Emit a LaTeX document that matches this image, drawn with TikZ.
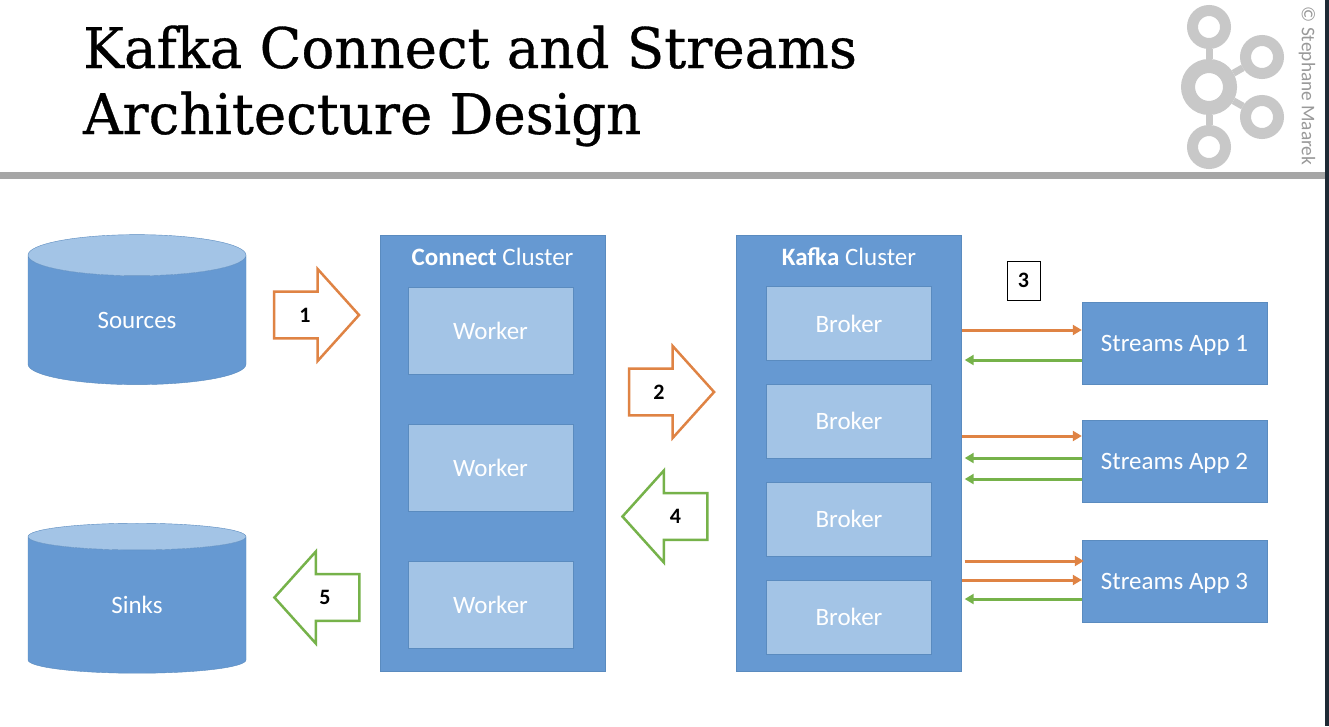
\documentclass[tikz,border=0pt]{standalone}
\usepackage{fontspec}
\setmainfont{Carlito}
\newfontfamily\titlefont[FakeStretch=0.975, FakeBold=0.6]{DejaVu Serif}
\usetikzlibrary{shapes.geometric}
\usetikzlibrary{shapes.arrows}
\usetikzlibrary{arrows.meta}
\definecolor{boxblue}{HTML}{6699D2}
\definecolor{edgeblue}{HTML}{5A8BBF}
\definecolor{paleblue}{HTML}{A3C4E6}
\definecolor{streamorange}{HTML}{DF8344}
\definecolor{streamgreen}{HTML}{76B24A}
\definecolor{logogray}{HTML}{C8C8C8}
\definecolor{sidestrip}{HTML}{1E2A35}
\tikzstyle{cluster}=[draw=edgeblue, fill=boxblue, minimum width=225, minimum height=436, inner sep=0]
\tikzstyle{member}=[draw=edgeblue, fill=paleblue, text=white, minimum width=165, font=\fontsize{25}{28}\selectfont, inner sep=0]
\tikzstyle{streamapp}=[draw=edgeblue, fill=boxblue, text=white, minimum width=185, minimum height=82, text height=22, text depth=6, font=\fontsize{25}{28}\selectfont, inner sep=0]
\tikzstyle{store}=[cylinder, shape border rotate=90, aspect=0.52, draw=edgeblue, cylinder uses custom fill, cylinder body fill=boxblue, cylinder end fill=paleblue, text=white, minimum width=218, minimum height=150, inner sep=0, font=\fontsize{25}{28}\selectfont]
\tikzstyle{stepin}=[single arrow, draw=streamorange, fill=white, line width=2.5, minimum height=85, minimum width=90, single arrow head extend=22.5, single arrow tip angle=96, inner xsep=0, inner ysep=15, font=\bfseries\fontsize{22}{26}\selectfont]
\tikzstyle{stepout}=[stepin, draw=streamgreen, shape border rotate=180]
\tikzstyle{sendline}=[draw=streamorange, line width=3, -{Triangle[length=9,width=10]}]
\tikzstyle{readline}=[draw=streamgreen, line width=3, -{Triangle[length=9,width=10]}]
\tikzstyle{logoring}=[circle, draw=logogray, line width=11, minimum size=33, inner sep=0]
\tikzstyle{logolink}=[draw=logogray, line width=7]
\begin{document}
\begin{tikzpicture}[x=1pt, y=-1pt]
  \useasboundingbox (0, 0) rectangle (1329, 726);
  \fill[white] (0, 0) rectangle (1329, 726);
  \fill[sidestrip] (1325, 0) rectangle (1329, 726);
  % heading
  \node[anchor=base west, inner sep=0, font=\titlefont\fontsize{56}{66}\selectfont] (titleone) at (83, 68) {Kafka Connect and Streams};
  \node[anchor=base west, inner sep=0, font=\titlefont\fontsize{56}{66}\selectfont] (titletwo) at (83, 134) {Architecture Design};
  \fill[black!35] (0, 172) rectangle (1325, 179);
  \node[rotate=-90, text=black!40, font=\fontsize{19.3}{24}\selectfont, inner sep=0] (credit) at (1307, 86) {© Stephane Maarek};
  % logo
  \node[logoring, line width=14, minimum size=42] (hub) at (1209, 87) {};
  \node[logoring] (ringtop) at (1209, 27) {};
  \node[logoring] (ringupper) at (1262, 57) {};
  \node[logoring] (ringlower) at (1262, 117) {};
  \node[logoring] (ringbottom) at (1209, 147) {};
  \draw[logolink] (hub) -- (ringtop);
  \draw[logolink] (hub) -- (ringupper);
  \draw[logolink] (hub) -- (ringlower);
  \draw[logolink] (hub) -- (ringbottom);
  % stores
  \node[store] (sources) at (137, 320) {Sources};
  \node[store] (sinks) at (137, 605) {Sinks};
  % connect cluster
  \node[cluster] (connect) at (492.5, 453) {};
  \node[text=white, font=\fontsize{25}{28}\selectfont, inner sep=0] (connecttitle) at (492.5, 257) {\textbf{Connect} Cluster};
  \foreach \name/\ypos in {workerone/330.5, workertwo/467.5, workerthree/604.5}
    \node[member, minimum height=87] (\name) at (490.5, \ypos) {Worker};
  % kafka cluster
  \node[cluster] (kafka) at (849, 453) {};
  \node[text=white, font=\fontsize{25}{28}\selectfont, inner sep=0] (kafkatitle) at (849, 257) {\textbf{Kafka} Cluster};
  \foreach \name/\ypos in {brokerone/323.5, brokertwo/421, brokerthree/519, brokerfour/617}
    \node[member, minimum height=74] (\name) at (849, \ypos) {Broker};
  % streams apps
  \node[streamapp] (appone) at (1174.5, 343) {Streams App 1};
  \node[streamapp] (apptwo) at (1174.5, 461) {Streams App 2};
  \node[streamapp] (appthree) at (1174.5, 581) {Streams App 3};
  \node[draw, line width=1, minimum width=33, minimum height=39, inner sep=0, font=\bfseries\fontsize{22}{26}\selectfont] (stepthree) at (1023.5, 280.5) {3};
  % numbered steps
  \node[stepin] (stepone) at (306, 315) {\makebox[0pt]{1\hspace{2pt}}};
  \node[stepin] (steptwo) at (661, 392) {\makebox[0pt]{2\hspace{4pt}}};
  \node[stepout] (stepfour) at (675.5, 516.5) {\makebox[0pt]{4}};
  \node[stepout] (stepfive) at (327.5, 597.5) {\makebox[0pt]{5\hspace{5pt}}};
  % app traffic
  \draw[sendline] ([yshift=13]appone.west -| kafka.east) -- ([yshift=13]appone.west);
  \draw[readline] ([yshift=-17]appone.west) -- ([yshift=-17, xshift=3]appone.west -| kafka.east);
  \draw[sendline] ([yshift=25]apptwo.west -| kafka.east) -- ([yshift=25]apptwo.west);
  \draw[readline] ([yshift=3]apptwo.west) -- ([yshift=3, xshift=3]apptwo.west -| kafka.east);
  \draw[readline] ([yshift=-18]apptwo.west) -- ([yshift=-18, xshift=3]apptwo.west -| kafka.east);
  \draw[sendline] ([yshift=20, xshift=3]appthree.west -| kafka.east) -- ([yshift=20, xshift=2]appthree.west);
  \draw[sendline] ([yshift=1]appthree.west -| kafka.east) -- ([yshift=1]appthree.west);
  \draw[readline] ([yshift=-18]appthree.west) -- ([yshift=-18, xshift=3]appthree.west -| kafka.east);
\end{tikzpicture}
\end{document}
